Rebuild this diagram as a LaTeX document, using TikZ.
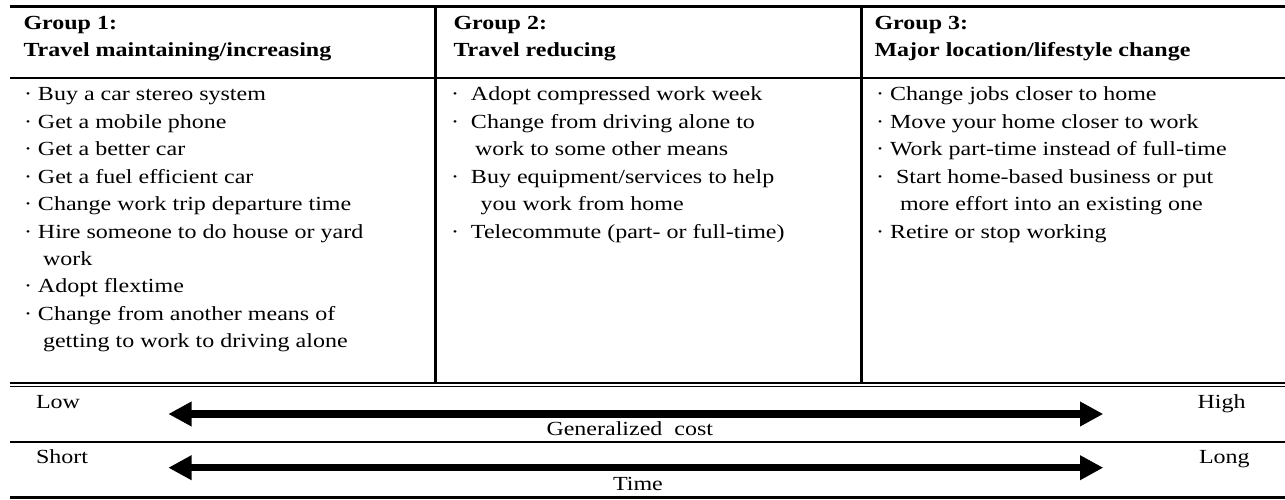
\documentclass[tikz,border=0pt]{standalone}
\usepackage{fontspec}
\setmainfont{Liberation Serif}[FakeStretch=1.2]
\usetikzlibrary{arrows.meta}
\begin{document}
\begin{tikzpicture}[x=1pt,y=-1pt,
  txt/.style={anchor=base west, inner sep=0pt, outer sep=0pt, font=\fontsize{20}{24}\selectfont},
  hd/.style={txt, font=\fontsize{20}{24}\selectfont\bfseries},
  rule/.style={line width=2.5pt},
  thinrule/.style={line width=2pt},
  bigarrow/.style={line width=7.5pt, >={Triangle[length=23.3pt,width=23.3pt]}, <->}]
\useasboundingbox (0,0) rectangle (1285,500);
% table rules
\draw[rule] (10,6.3) -- (1285,6.3);
\draw[rule] (10,78) -- (1285,78);
\draw[rule] (435.7,6.3) -- (435.7,383);
\draw[rule] (861.7,6.3) -- (861.7,383);
\draw[thinrule] (10,383.3) -- (1285,383.3);
\draw[line width=1.3pt] (10,386.6) -- (1285,386.6);
\draw[thinrule] (10,441.5) -- (1285,441.5);
\draw[line width=2.2pt] (10,497.5) -- (1285,497.5);
% headers
\node[hd] (h1a) at (23.5,30) {Group 1:};
\node[hd] (h1b) at (23.5,56.7) {Travel maintaining/increasing};
\node[hd] (h2a) at (453.5,30) {Group 2:};
\node[hd] (h2b) at (453.5,56.7) {Travel reducing};
\node[hd] (h3a) at (874.5,30) {Group 3:};
\node[hd] (h3b) at (874.5,56.7) {Major location/lifestyle change};
% column 1
\node[txt] (c1l0) at (24,101) {·~Buy a car stereo system};
\node[txt] (c1l1) at (24,128.4) {·~Get a mobile phone};
\node[txt] (c1l2) at (24,155.8) {·~Get a better car};
\node[txt] (c1l3) at (24,183.2) {·~Get a fuel efficient car};
\node[txt] (c1l4) at (24,210.6) {·~Change work trip departure time};
\node[txt] (c1l5) at (24,238) {·~Hire someone to do house or yard};
\node[txt] (c1l6) at (43,265.4) {work};
\node[txt] (c1l7) at (24,292.8) {·~Adopt flextime};
\node[txt] (c1l8) at (24,320.2) {·~Change from another means of};
\node[txt] (c1l9) at (43,347.6) {getting to work to driving alone};
% column 2
\node[txt] (c2l0) at (451,101) {·~~Adopt compressed work week};
\node[txt] (c2l1) at (451,128.4) {·~~Change from driving alone to};
\node[txt] (c2l2) at (475,155.8) {work to some other means};
\node[txt] (c2l3) at (451,183.2) {·~~Buy equipment/services to help};
\node[txt] (c2l4) at (480.5,210.6) {you work from home};
\node[txt] (c2l5) at (451,238) {·~~Telecommute (part- or full-time)};
% column 3
\node[txt] (c3l0) at (876,101) {·~Change jobs closer to home};
\node[txt] (c3l1) at (876,128.4) {·~Move your home closer to work};
\node[txt] (c3l2) at (876,155.8) {·~Work part-time instead of full-time};
\node[txt] (c3l3) at (876,183.2) {·~~Start home-based business or put};
\node[txt] (c3l4) at (900,210.6) {more effort into an existing one};
\node[txt] (c3l5) at (876,238) {·~Retire or stop working};
% scales
\node[txt] (low) at (36,408) {Low};
\node[txt] (high) at (1197.5,408) {High};
\node[txt] (short) at (36,463.5) {Short};
\node[txt] (long) at (1199,463.5) {Long};
\node[txt] (gc) at (546.5,435) {Generalized~~cost};
\node[txt] (time) at (613,490) {Time};
\coordinate (a1l) at (168.3,414);
\coordinate (a1r) at (1103.3,414);
\coordinate (a2l) at (168.3,467.7);
\coordinate (a2r) at (1103.3,467.7);
\draw[bigarrow] (a1l) -- (a1r);
\draw[bigarrow] (a2l) -- (a2r);
\end{tikzpicture}
\end{document}
